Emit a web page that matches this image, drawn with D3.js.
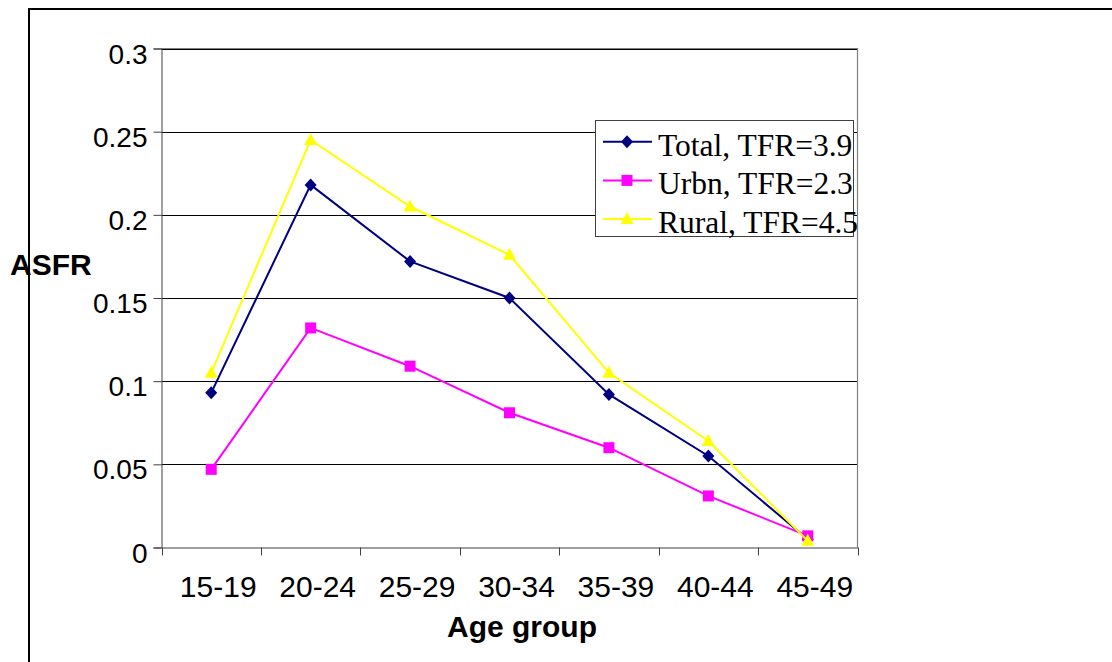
<!DOCTYPE html>
<html>
<head>
<meta charset="utf-8">
<script src="https://cdn.jsdelivr.net/npm/d3@7"></script>
<style>
  html, body { margin: 0; padding: 0; background: #fff; }
  svg { display: block; }
</style>
</head>
<body>
<svg id="chart" width="1112" height="662"></svg>
<script>
// Age-specific fertility rates by age group
const ageGroups = ["15-19", "20-24", "25-29", "30-34", "35-39", "40-44", "45-49"];
const totalASFR = [0.093, 0.218, 0.172, 0.150, 0.092, 0.055, 0.005];
const urbanASFR = [0.047, 0.132, 0.109, 0.081, 0.060, 0.031, 0.007];
const ruralASFR = [0.105, 0.245, 0.205, 0.176, 0.105, 0.064, 0.004];
const yTicks = [0, 0.05, 0.1, 0.15, 0.2, 0.25, 0.3];
const seriesNames = ["Total, TFR=3.9", "Urbn, TFR=2.3", "Rural, TFR=4.5"];

// marker shapes
const diamond = "M0,-6.5L6,0L0,6.5L-6,0Z";
const square = "M-5.5,-5.5H5.5V5.5H-5.5Z";
const triangle = "M0,-7L6.5,5L-6.5,5Z";

const series = [
  { name: seriesNames[0], values: totalASFR, color: "#000080", marker: diamond },
  { name: seriesNames[1], values: urbanASFR, color: "#FF00FF", marker: square },
  { name: seriesNames[2], values: ruralASFR, color: "#FFFF00", marker: triangle }
];

const sans = "Liberation Sans, Arial, sans-serif";
const serif = "Liberation Serif, Times New Roman, serif";

const svg = d3.select("#chart");
const plot = { left: 161.5, right: 857.5, top: 48.5, bottom: 547.5 };

// outer chart frame
svg.append("rect")
  .attr("x", 29).attr("y", 9).attr("width", 1200).attr("height", 800)
  .attr("fill", "none").attr("stroke", "#000").attr("stroke-width", 2);

const x = d3.scaleBand().domain(ageGroups).range([plot.left, plot.right]);
const y = d3.scaleLinear().domain([0, 0.3]).range([plot.bottom, plot.top]);

// horizontal gridlines
svg.append("g").selectAll("line").data(yTicks.slice(1)).join("line")
  .attr("x1", plot.left).attr("x2", plot.right)
  .attr("y1", d => Math.round(y(d)) + 0.5).attr("y2", d => Math.round(y(d)) + 0.5)
  .attr("stroke", "#000").attr("stroke-width", 1);

// plot area border (top and right)
svg.append("path")
  .attr("d", `M${plot.left},${plot.top}H${plot.right}V${plot.bottom}`)
  .attr("fill", "none").attr("stroke", "#808080").attr("stroke-width", 1.2);

// y axis
const yAxis = d3.axisLeft(y).tickValues(yTicks).tickSize(8).tickPadding(6)
  .tickFormat(d => d3.format("")(+d.toFixed(2)));
const gy = svg.append("g").attr("transform", `translate(${plot.left},0)`).call(yAxis);
gy.select(".domain").attr("stroke", "#404040");
gy.selectAll(".tick line").attr("stroke", "#404040");
gy.selectAll(".tick text")
  .attr("font-family", sans).attr("dy", "0.52em")
  .attr("font-size", 28).attr("fill", "#000");

// x axis with ticks between categories
const xAxis = d3.axisBottom(x).tickSize(0).tickPadding(28);
const gx = svg.append("g").attr("transform", `translate(0,${plot.bottom})`).call(xAxis);
gx.select(".domain").attr("stroke", "#404040");
gx.selectAll(".tick text")
  .attr("font-family", sans).attr("x", 7)
  .attr("font-size", 30).attr("fill", "#000");
const boundaries = ageGroups.map(g => x(g)).concat([x(ageGroups[ageGroups.length - 1]) + x.bandwidth()]);
svg.append("g").selectAll("line").data(boundaries).join("line")
  .attr("x1", d => Math.round(d) + 0.5).attr("x2", d => Math.round(d) + 0.5)
  .attr("y1", plot.bottom).attr("y2", plot.bottom + 8)
  .attr("stroke", "#404040");

// axis titles
svg.append("text")
  .attr("x", 522).attr("y", 637).attr("text-anchor", "middle")
  .attr("font-family", sans)
  .attr("font-size", 30).attr("font-weight", "bold")
  .text("Age group");
svg.append("text")
  .attr("x", 10).attr("y", 275)
  .attr("font-family", sans)
  .attr("font-size", 30).attr("font-weight", "bold")
  .text("ASFR");

// series lines and markers
const cx = d => x(d) + x.bandwidth() / 2;
const line = d3.line().x((d, i) => cx(ageGroups[i])).y(d => y(d));
series.forEach(s => {
  svg.append("path").datum(s.values)
    .attr("d", line).attr("fill", "none")
    .attr("stroke", s.color).attr("stroke-width", 2);
  svg.append("g").selectAll("path").data(s.values).join("path")
    .attr("transform", (d, i) => `translate(${cx(ageGroups[i])},${y(d)})`)
    .attr("d", s.marker)
    .attr("fill", s.color);
});

// legend
const lg = svg.append("g");
lg.append("rect")
  .attr("x", 595.5).attr("y", 120.5).attr("width", 258).attr("height", 116)
  .attr("fill", "#fff").attr("stroke", "#404040").attr("stroke-width", 1);
series.forEach((s, i) => {
  const base = 155.7 + i * 38.7;
  const yy = base - 14;
  lg.append("line")
    .attr("x1", 603).attr("x2", 652).attr("y1", yy).attr("y2", yy)
    .attr("stroke", s.color).attr("stroke-width", 2);
  lg.append("path")
    .attr("transform", `translate(627,${yy})`)
    .attr("d", s.marker)
    .attr("fill", s.color);
  lg.append("text")
    .attr("x", 658).attr("y", base)
    .attr("font-family", serif)
    .attr("font-size", 31.5).attr("fill", "#000")
    .text(s.name);
});
</script>
</body>
</html>
